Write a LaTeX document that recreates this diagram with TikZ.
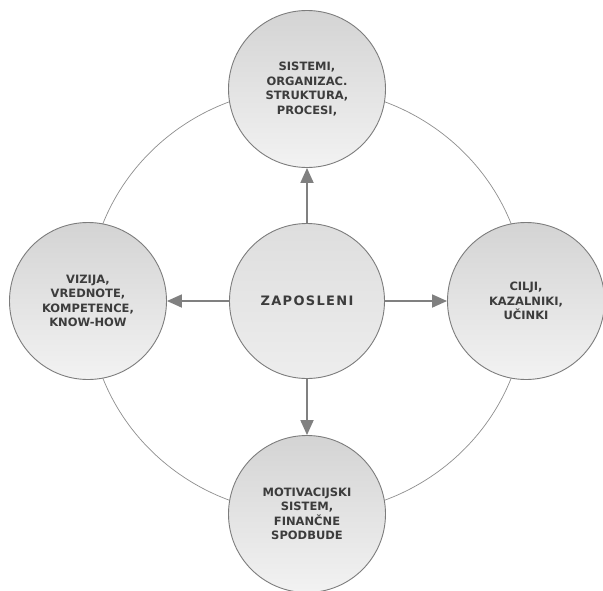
\documentclass[tikz,border=0pt]{standalone}
\usepackage{fontspec}
\setmainfont{DejaVu Sans}
\usetikzlibrary{arrows.meta}
\definecolor{ringgray}{HTML}{8E8E8E}
\definecolor{edgegray}{HTML}{7C7C7C}
\definecolor{arrowgray}{HTML}{808080}
\definecolor{txtgray}{HTML}{3C3C3C}
\tikzset{
  bubble/.style={circle, draw=edgegray, line width=0.9pt, minimum size=157pt, inner sep=0pt,
    top color=black!17, bottom color=black!5, shading angle=0,
    align=center, text=txtgray, font=\bfseries\fontsize{11.5}{14.5}\selectfont},
  hub/.style={bubble, minimum size=155pt, top color=black!13, bottom color=black!7,
    font=\bfseries\fontsize{13}{16}\selectfont\addfontfeature{LetterSpace=10}},
  ring/.style={draw=ringgray, line width=0.7pt},
  flow/.style={draw=arrowgray, line width=1.8pt,
    -{Triangle[length=15pt, width=13pt]}}
}
\begin{document}
\begin{tikzpicture}[x=1pt, y=-1pt]
  \useasboundingbox (0,0) rectangle (603,590);
  \fill[white] (0,0) rectangle (603,590);
  % outer ring through the four satellite circles
  \draw[ring] (307,301) ellipse [x radius=219, y radius=213];
  % satellites
  \node[bubble] (top) at (307,89) {SISTEMI,\\ORGANIZAC.\\STRUKTURA,\\PROCESI,};
  \node[bubble] (left) at (88,301) {VIZIJA,\\VREDNOTE,\\KOMPETENCE,\\KNOW-HOW};
  \node[bubble] (right) at (526,301) {CILJI,\\KAZALNIKI,\\UČINKI};
  \node[bubble] (bottom) at (307,514) {MOTIVACIJSKI\\SISTEM,\\FINANČNE\\SPODBUDE};
  % hub
  \node[hub] (hub) at (307,301) {ZAPOSLENI};
  % arrows from the hub
  \draw[flow] (hub.north) -- (top.south);
  \draw[flow] (hub.west) -- (left.east);
  \draw[flow] (hub.east) -- (right.west);
  \draw[flow] (hub.south) -- (bottom.north);
\end{tikzpicture}
\end{document}
